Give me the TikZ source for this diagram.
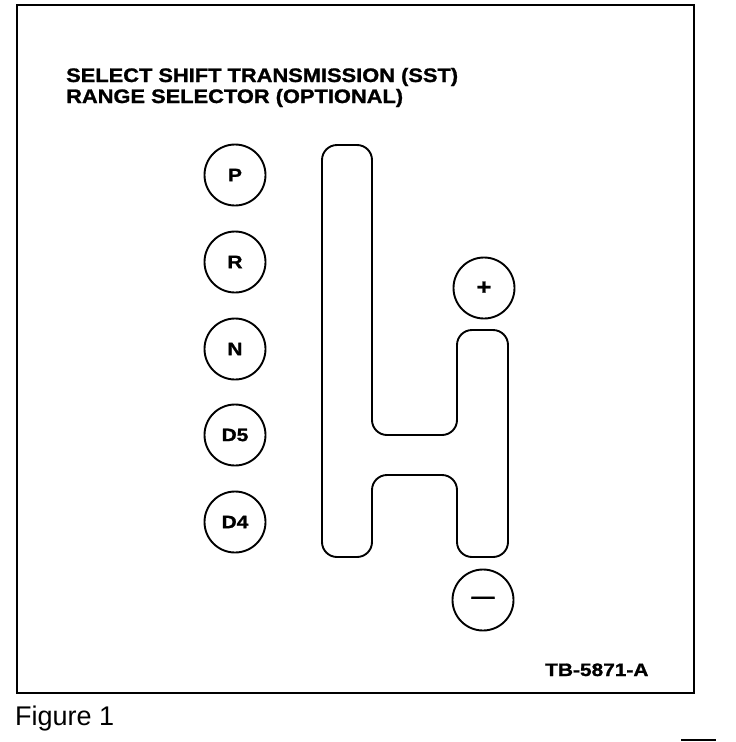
\documentclass[tikz,border=0pt]{standalone}
\usepackage{fontspec}
\setmainfont{Liberation Sans}
\newfontfamily\widefont[FakeStretch=1.12,FakeBold=1.2]{Liberation Sans}
\newfontfamily\wideRfont[FakeStretch=1.16,FakeBold=1.2]{Liberation Sans}
\begin{document}
\begin{tikzpicture}[x=1pt,y=-1pt,
  ln/.style={line width=1.9pt, black},
  gear/.style={ln, draw, circle, minimum size=61pt, inner sep=0pt,
    font=\wideRfont\bfseries\fontsize{18}{18}\selectfont},
  title/.style={anchor=base west, inner sep=0pt,
    font=\widefont\bfseries\fontsize{19.5}{22}\selectfont}]
\useasboundingbox (0,0) rectangle (736,742);
% frame
\draw[line width=2.4pt] (17,5) rectangle (694,693);
% titles
\node[title] (t1) at (66,82) {SELECT SHIFT TRANSMISSION (SST)};
\node[title] (t2) at (66,103) {RANGE SELECTOR (OPTIONAL)};
\node[anchor=base west, inner sep=0pt, font=\wideRfont\bfseries\fontsize{18}{18}\selectfont] (tb) at (545,676) {TB-5871-A};
\node[anchor=base west, inner sep=0pt, font=\fontsize{27}{27}\selectfont] (fig) at (15,725) {Figure 1};
% gear circles
\node[gear] (P) at (235,175) {P};
\node[gear] (R) at (235,262) {R};
\node[gear] (N) at (235,349) {N};
\node[gear] (D5) at (235,435) {D5};
\node[gear] (D4) at (235,522) {D4};
\node[gear, font=\wideRfont\bfseries\fontsize{22}{22}\selectfont] (plus) at (484,288) {+};
\node[gear, font=\wideRfont\bfseries\fontsize{20}{20}\selectfont] (minus) at (483,600) {—};
% gate
\draw[ln, rounded corners=15pt]
  (322,145) -- (322,557) -- (372,557) -- (372,475) -- (457,475) -- (457,557)
  -- (508,557) -- (508,330) -- (457,330) -- (457,435) -- (372,435) -- (372,145) -- cycle;
% stray mark
\coordinate (s1) at (681,740);
\coordinate (s2) at (716,740);
\draw[line width=1.5pt] (s1) -- (s2);
\end{tikzpicture}
\end{document}
